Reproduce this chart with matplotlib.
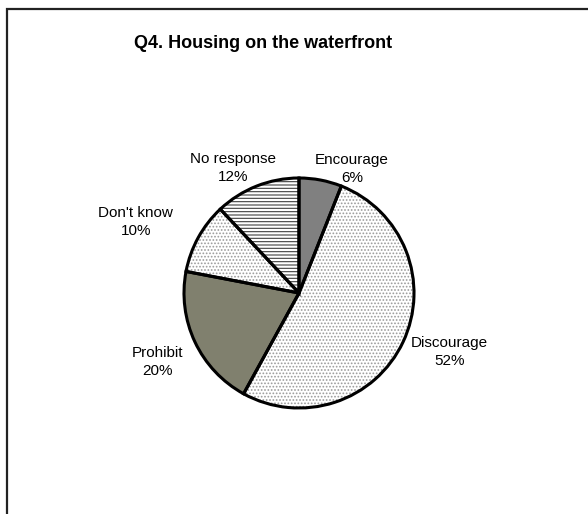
import matplotlib
matplotlib.use("Agg")
import matplotlib.pyplot as plt
from matplotlib.patches import Rectangle, Wedge

plt.rcParams['font.family'] = ['Liberation Sans', 'DejaVu Sans']
plt.rcParams['hatch.linewidth'] = 0.8

title = "Q4. Housing on the waterfront"
categories = ["Encourage", "Discourage", "Prohibit", "Don't know", "No response"]
shares = [6, 52, 20, 10, 12]

face_colors = ["#808080", "#ffffff", "#80806e", "#ffffff", "#ffffff"]
hatches = ["", ".....", "", ".....", "-----"]
hatch_colors = ["#808080", "#9a9a9a", "#80806e", "#9a9a9a", "#404040"]
label_pos = [(0.46, 1.08), (1.31, -0.51), (-1.23, -0.60), (-1.42, 0.62), (-0.57, 1.09)]

fig = plt.figure(figsize=(5.88, 5.14), dpi=100)
fig.patch.set_facecolor("white")

# outer chart frame (runs past the right and bottom edges)
fig.patches.append(Rectangle((6.5 / 588, -0.05), 1.2, 1 - 8.5 / 514 + 0.05,
                             transform=fig.transFigure, fill=False,
                             edgecolor="#222222", linewidth=1.6))

fig.text(263 / 588, 1 - 44 / 514, title, ha="center", va="center",
         fontsize=13, fontweight="bold")

# axes placed so that the unit-radius pie sits at pixel centre (299, 293), r = 115
r_px = 115
cx, cy = 299, 293
half = 1.6
ax = fig.add_axes([(cx - half * r_px) / 588, (514 - cy - half * r_px) / 514,
                   2 * half * r_px / 588, 2 * half * r_px / 514])

wedges, _ = ax.pie(shares, startangle=90, counterclock=False, radius=1,
                   colors=face_colors,
                   wedgeprops=dict(edgecolor="none", linewidth=0))

# fill patterns drawn as separate layers so they can carry their own colour
for w, h, hc in zip(wedges, hatches, hatch_colors):
    if h:
        ax.add_patch(Wedge(w.center, w.r, w.theta1, w.theta2, facecolor="none",
                           edgecolor=hc, hatch=h, linewidth=0, zorder=2))
# slice outlines
for w in wedges:
    ax.add_patch(Wedge(w.center, w.r, w.theta1, w.theta2, facecolor="none",
                       edgecolor="black", linewidth=2.2, zorder=3))

for name, val, (lx, ly) in zip(categories, shares, label_pos):
    ax.text(lx, ly, f"{name}\n{val}%", ha="center", va="center",
            fontsize=11, linespacing=1.35, zorder=4)

ax.set_xlim(-half, half)
ax.set_ylim(-half, half)
ax.set_aspect("equal")
ax.axis("off")

fig.savefig("out.png", dpi=100, facecolor="white")
